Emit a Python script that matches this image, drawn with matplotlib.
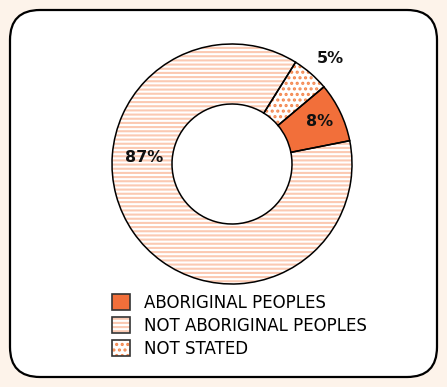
import matplotlib
matplotlib.use("Agg")
import matplotlib.pyplot as plt
from matplotlib.patches import FancyBboxPatch, Patch
import numpy as np

categories = ["ABORIGINAL PEOPLES", "NOT ABORIGINAL PEOPLES", "NOT STATED"]
shares = [8, 87, 5]
labels = ["8%", "87%", "5%"]

# drawing order round the ring (clockwise from the top right)
order = [2, 0, 1]

bg = "#fdf3ea"
solid = "#f26f3a"
stripe = "#fbc9b2"
dot = "#f4874f"

plt.rcParams["font.family"] = ["DejaVu Sans"]
plt.rcParams["hatch.linewidth"] = 1.5

W, H = 447, 387
fig = plt.figure(figsize=(W / 100, H / 100), dpi=100, facecolor=bg)
ax = fig.add_axes([0, 0, 1, 1])

box = FancyBboxPatch((10, 10), 427, 367, boxstyle="round,pad=0,rounding_size=30",
                     facecolor="white", edgecolor="black", linewidth=1.6, zorder=0)
ax.add_patch(box)

cx, cy, R, w = 232, 223, 120, 60
vals = [shares[i] for i in order]

fills = {0: dict(facecolor=solid, hatch=None, hc=stripe),
         1: dict(facecolor="white", hatch="----", hc=stripe),
         2: dict(facecolor="white", hatch="...", hc=dot)}

wedges, _ = ax.pie(vals, center=(cx, cy), radius=R, startangle=58, counterclock=False,
                   wedgeprops=dict(width=w, linewidth=0, edgecolor="none"))
for wdg, i in zip(wedges, order):
    wdg.set_facecolor(fills[i]["facecolor"])
    if fills[i]["hatch"]:
        wdg.set_hatch(fills[i]["hatch"])
        wdg._hatch_color = matplotlib.colors.to_rgba(fills[i]["hc"])

# outlines on top
ax.pie(vals, center=(cx, cy), radius=R, startangle=58, counterclock=False,
       wedgeprops=dict(width=w, linewidth=1.1, edgecolor="black", facecolor="none"))

# percent labels: (angle in degrees, distance from centre)
label_pos = {0: (26, 97), 1: (175.5, 88), 2: (47, 144)}
for i in range(3):
    a, r = label_pos[i]
    ax.text(cx + r * np.cos(np.radians(a)), cy + r * np.sin(np.radians(a)), labels[i],
            ha="center", va="center", fontsize=11.5, fontweight="bold", color="#111111")

# legend
handles = []
for i in range(3):
    p = Patch(facecolor=fills[i]["facecolor"], hatch=fills[i]["hatch"], linewidth=0)
    if fills[i]["hatch"]:
        p._hatch_color = matplotlib.colors.to_rgba(fills[i]["hc"])
    outline = Patch(facecolor="none", edgecolor="#333333", linewidth=1.2)
    handles.append((p, outline))
leg = ax.legend(handles, categories, loc="upper left", bbox_to_anchor=(112 / W, 1 - 294 / H),
                frameon=False, fontsize=12, handlelength=1.08, handleheight=1.08,
                handletextpad=0.85, labelspacing=0.29, borderpad=0, borderaxespad=0)

ax.set_xlim(0, W)
ax.set_ylim(0, H)
ax.set_aspect("equal")
ax.axis("off")

fig.savefig("out.png", dpi=100, facecolor=bg)
